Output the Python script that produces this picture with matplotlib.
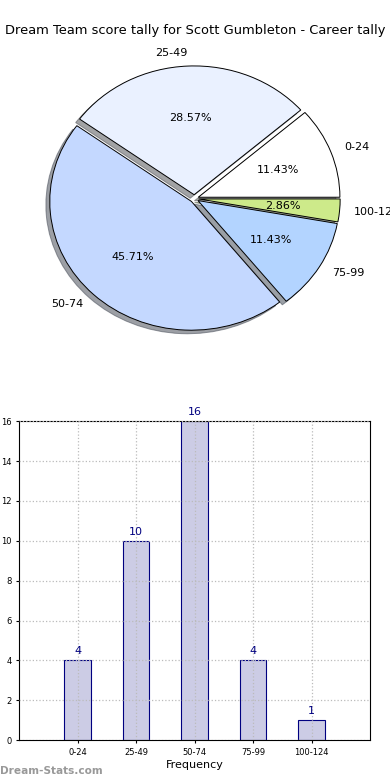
import matplotlib
matplotlib.use("Agg")
import matplotlib.pyplot as plt

# score tally data
categories = ["0-24", "25-49", "50-74", "75-99", "100-124"]
counts = [4, 10, 16, 4, 1]
pie_colors = ["#FFFFFF", "#EAF1FF", "#C4D8FF", "#B3D4FF", "#CDEA8A"]

fig = plt.figure(figsize=(3.9, 7.8), dpi=100)

# --- pie (not forced round, like the original) ---
ax1 = fig.add_axes([0.0444, 0.539, 0.9077, 0.4128])
ax1.pie(counts, labels=categories, colors=pie_colors, autopct="%1.2f%%",
        explode=[0.03] * len(counts), shadow=True, startangle=0,
        counterclock=True, labeldistance=1.1, pctdistance=0.6,
        wedgeprops=dict(edgecolor="black", linewidth=0.7),
        textprops=dict(fontsize=8))
ax1.set_aspect("auto")
ax1.set_xlim(-1.25, 1.25)
ax1.set_ylim(-1.25, 1.25)
fig.text(0.5, 0.961, "Dream Team score tally for Scott Gumbleton - Career tally",
         ha="center", va="center", fontsize=9.4)

# --- bar chart ---
ax2 = fig.add_axes([0.049, 0.051, 0.9, 0.409])
pos = list(range(1, len(categories) + 1))
ax2.bar(pos, counts, width=0.45, color="#CCCCE5", edgecolor="#000080", linewidth=0.8)
for p, c in zip(pos, counts):
    ax2.text(p, c + 0.2, str(c), ha="center", va="bottom", color="#000080", fontsize=8)
ax2.set_xlim(0, 6)
ax2.set_ylim(0, 16)
ax2.set_xticks(pos)
ax2.set_xticklabels(categories)
ax2.set_yticks(range(0, 17, 2))
ax2.tick_params(labelsize=6, length=2)
ax2.grid(True, linestyle=":", color="#BBBBBB", linewidth=0.9)
ax2.set_axisbelow(False)
ax2.set_xlabel("Frequency", fontsize=8, labelpad=2)
ax2.set_ylabel("Score Interval", fontsize=8, labelpad=6)

fig.text(0.0, 0.012, "Dream-Stats.com", color="#999999", fontsize=7.6,
         fontweight="bold", ha="left", va="center")

fig.savefig("out.png", dpi=100)
